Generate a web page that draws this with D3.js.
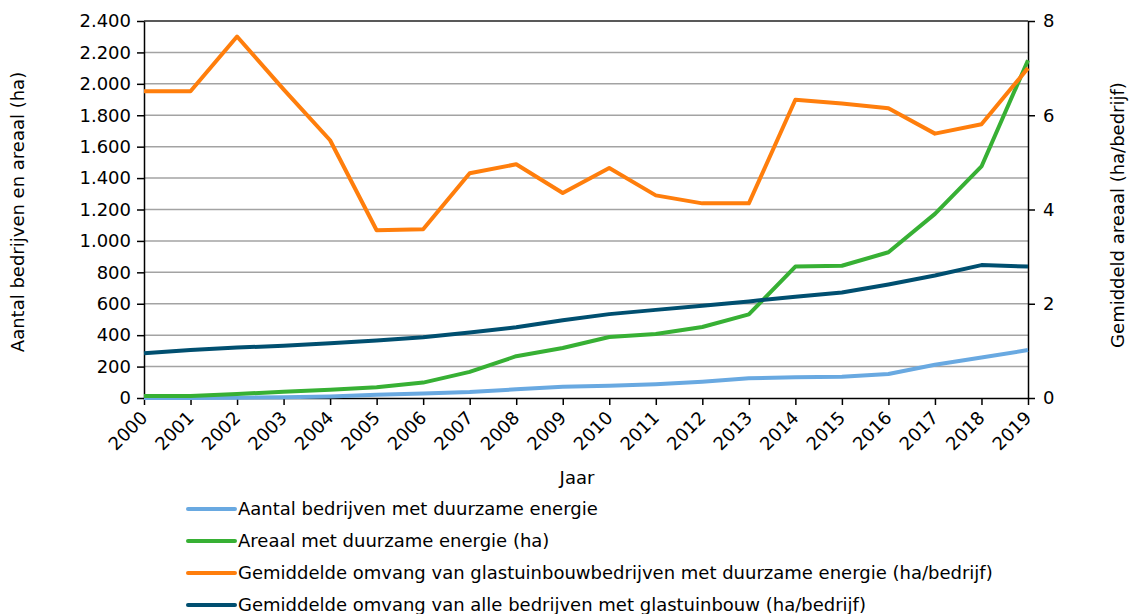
<!DOCTYPE html>
<html>
<head>
<meta charset="utf-8">
<script src="https://cdn.jsdelivr.net/npm/d3@7"></script>
<style>
	body { margin: 0; background: #fff; }
	svg text { font-family: "DejaVu Sans", Verdana, sans-serif; fill: #000; }
</style>
</head>
<body>
<svg id="chart" width="1131" height="614"></svg>
<script>
var years = [2000, 2001, 2002, 2003, 2004, 2005, 2006, 2007, 2008, 2009,
	2010, 2011, 2012, 2013, 2014, 2015, 2016, 2017, 2018, 2019];

// linker as: aantal en areaal
var aantalBedrijven = [0, 0, 2, 5, 10, 20, 28, 38, 55, 72,
	78, 88, 104, 126, 132, 136, 153, 212, 258, 305];
var areaal = [12, 12, 25, 40, 52, 68, 98, 166, 266, 318,
	388, 408, 452, 532, 837, 842, 928, 1172, 1474, 2150];

// rechter as: ha per bedrijf
var omvangDuurzaam = [6.51, 6.51, 7.67, 6.55, 5.47, 3.56, 3.58, 4.77, 4.96, 4.35,
	4.88, 4.3, 4.13, 4.13, 6.33, 6.25, 6.15, 5.61, 5.81, 7.0];
var omvangAlle = [0.95, 1.02, 1.07, 1.11, 1.16, 1.22, 1.29, 1.39, 1.5, 1.65,
	1.78, 1.87, 1.96, 2.05, 2.15, 2.24, 2.41, 2.6, 2.82, 2.79];

var leftTicks = [0, 200, 400, 600, 800, 1000, 1200, 1400, 1600, 1800, 2000, 2200, 2400];
var rightTicks = [0, 2, 4, 6, 8];

var series = [
	{ name: 'Aantal bedrijven met duurzame energie', values: aantalBedrijven, axis: 'left', color: '#69a9e1' },
	{ name: 'Areaal met duurzame energie (ha)', values: areaal, axis: 'left', color: '#37b034' },
	{ name: 'Gemiddelde omvang van glastuinbouwbedrijven met duurzame energie (ha/bedrijf)', values: omvangDuurzaam, axis: 'right', color: '#ff7e0c' },
	{ name: 'Gemiddelde omvang van alle bedrijven met glastuinbouw (ha/bedrijf)', values: omvangAlle, axis: 'right', color: '#004f70' }
];

var fontSize = 18;
var margin = { left: 144, right: 1028, top: 21, bottom: 398 };
var svg = d3.select('#chart');

var x = d3.scaleLinear()
	.domain([2000, 2019])
	.range([margin.left, margin.right]);
var yLeft = d3.scaleLinear()
	.domain([0, 2400])
	.range([margin.bottom, margin.top]);
var yRight = d3.scaleLinear()
	.domain([0, 8])
	.range([margin.bottom, margin.top]);

// rasterlijnen
svg.append('g')
	.selectAll('line')
	.data(leftTicks.slice(1, -1))
	.enter()
	.append('line')
	.attr('x1', margin.left)
	.attr('x2', margin.right)
	.attr('y1', function (d) { return yLeft(d); })
	.attr('y2', function (d) { return yLeft(d); })
	.attr('stroke', '#a3a3a3')
	.attr('stroke-width', 1.5);

svg.append('line')
	.attr('x1', margin.left)
	.attr('x2', margin.right)
	.attr('y1', yLeft(2400))
	.attr('y2', yLeft(2400))
	.attr('stroke', '#222')
	.attr('stroke-width', 1.5);

function styleAxis(g) {
	g.select('.domain').attr('stroke', '#000').attr('stroke-width', 1.5);
	g.selectAll('.tick line').attr('stroke', '#000').attr('stroke-width', 1.5);
	g.selectAll('.tick text').attr('font-size', fontSize).style('font-family', '"DejaVu Sans", Verdana, sans-serif');
}

var leftAxis = svg.append('g')
	.attr('transform', 'translate(' + margin.left + ',0)')
	.call(d3.axisLeft(yLeft)
		.tickValues(leftTicks)
		.tickSize(7)
		.tickSizeOuter(0)
		.tickPadding(6)
		.tickFormat(function (d) { return d3.format(',')(d).replace(/,/g, '.'); }));
styleAxis(leftAxis);

var rightAxis = svg.append('g')
	.attr('transform', 'translate(' + margin.right + ',0)')
	.call(d3.axisRight(yRight)
		.tickValues(rightTicks)
		.tickSize(7)
		.tickSizeOuter(0)
		.tickPadding(8)
		.tickFormat(d3.format('d')));
styleAxis(rightAxis);

var bottomAxis = svg.append('g')
	.attr('transform', 'translate(0,' + margin.bottom + ')')
	.call(d3.axisBottom(x)
		.tickValues(years)
		.tickSize(7)
		.tickSizeOuter(0)
		.tickFormat(d3.format('d')));
styleAxis(bottomAxis);
bottomAxis.selectAll('.tick text')
	.attr('text-anchor', 'end')
	.attr('dy', null)
	.attr('y', 0)
	.attr('transform', 'translate(4,21) rotate(-45)');

// lijnen
var line = function (s) {
	var y = s.axis === 'left' ? yLeft : yRight;
	return d3.line()
		.x(function (d, i) { return x(years[i]); })
		.y(function (d) { return y(d); })(s.values);
};

svg.append('g')
	.selectAll('path')
	.data(series)
	.enter()
	.append('path')
	.attr('d', line)
	.attr('fill', 'none')
	.attr('stroke', function (d) { return d.color; })
	.attr('stroke-width', 4)
	.attr('stroke-linejoin', 'round');

// astitels
svg.append('text')
	.attr('transform', 'translate(24,212) rotate(-90)')
	.attr('text-anchor', 'middle')
	.attr('font-size', fontSize)
	.text('Aantal bedrijven en areaal (ha)');

svg.append('text')
	.attr('transform', 'translate(1124,215) rotate(-90)')
	.attr('text-anchor', 'middle')
	.attr('font-size', fontSize)
	.text('Gemiddeld areaal (ha/bedrijf)');

svg.append('text')
	.attr('x', 577)
	.attr('y', 484)
	.attr('text-anchor', 'middle')
	.attr('font-size', fontSize)
	.text('Jaar');

// legenda
var legend = svg.append('g')
	.selectAll('g')
	.data(series)
	.enter()
	.append('g')
	.attr('transform', function (d, i) { return 'translate(188,' + (509 + i * 32) + ')'; });

legend.append('line')
	.attr('x1', 0)
	.attr('x2', 47)
	.attr('stroke', function (d) { return d.color; })
	.attr('stroke-width', 4)
	.attr('stroke-linecap', 'round');

legend.append('text')
	.attr('x', 50)
	.attr('dy', '0.35em')
	.attr('font-size', fontSize)
	.text(function (d) { return d.name; });
</script>
</body>
</html>
